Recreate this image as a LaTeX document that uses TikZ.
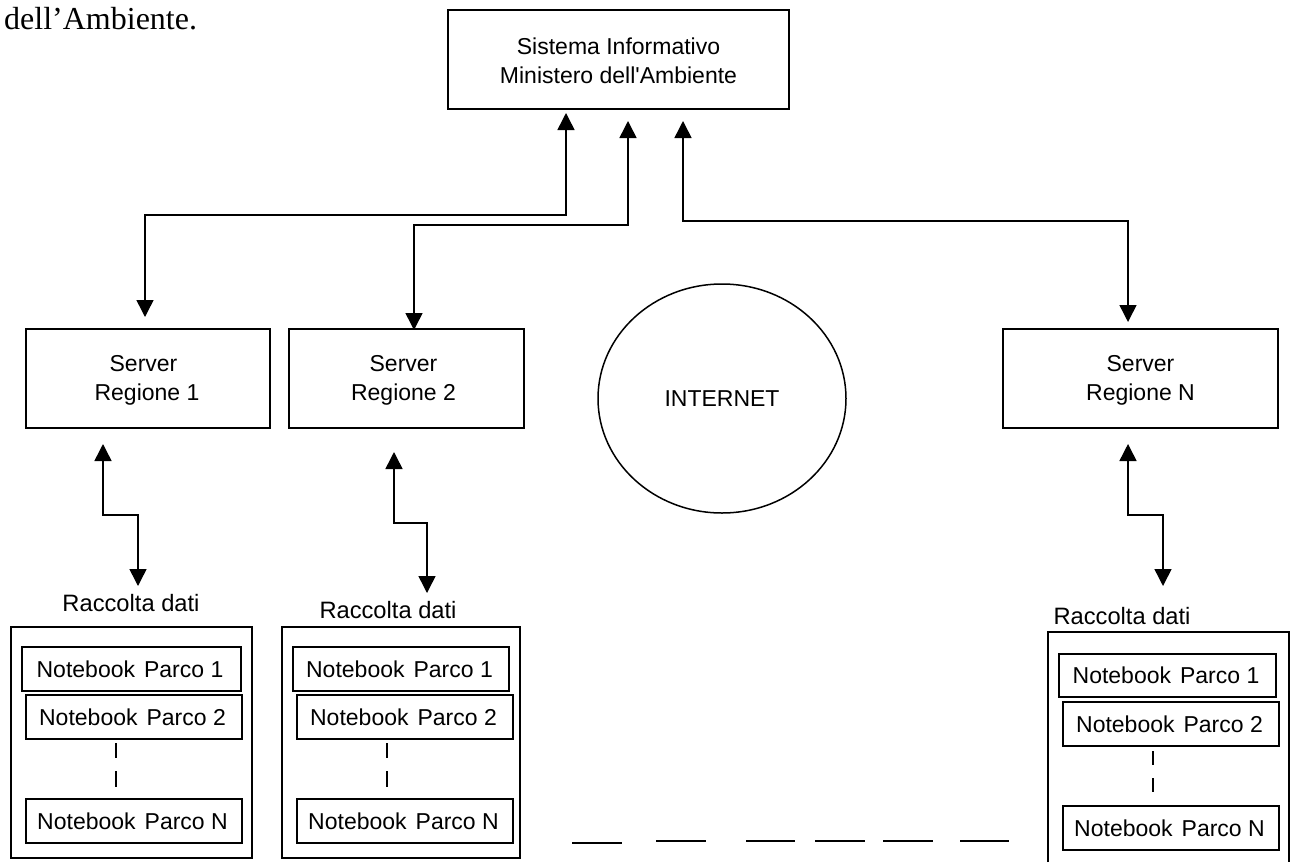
\documentclass[tikz,border=0pt]{standalone}
\usepackage{fontspec}
\setmainfont{Liberation Sans}
\newfontfamily\arialfont{Liberation Sans}
\newfontfamily\timesfont{Liberation Serif}
\usetikzlibrary{arrows.meta,shapes.geometric}
\tikzset{
  boxstyle/.style={draw=black,line width=1.5pt,fill=white,rectangle,inner sep=0pt,align=center,
    font=\arialfont\fontsize{23}{29}\selectfont},
  linkline/.style={draw=black,line width=1.5pt,miter limit=10},
  onehead/.style={linkline,-{Triangle[length=17pt,width=17pt]}},
  twohead/.style={linkline,{Triangle[length=17pt,width=17pt]}-{Triangle[length=17pt,width=17pt]}},
  sparse/.style={draw=black,line width=1.4pt},
  plain/.style={inner sep=0pt,font=\arialfont\fontsize{23.7}{29}\selectfont},
}
% name, x1, y1, x2, y2, text
\newcommand{\pxbox}[6]{\node[boxstyle,minimum width={(#4-#2)*1pt},minimum height={(#5-#3)*1pt}]
  (#1) at ({(#2+#4)/2},{(#3+#5)/2}) {#6};}
\newcommand{\nbtext}[1]{\hspace*{-3pt}Notebook\hspace{9pt}Parco #1}
\begin{document}
\begin{tikzpicture}[x=1pt,y=-1pt]
\useasboundingbox (0,0) rectangle (1292,862);
\fill[white] (0,0) rectangle (1292,862);

\node[anchor=base west,inner sep=0pt,font=\timesfont\fontsize{32}{36}\selectfont] (intro) at (4,29) {dell’Ambiente.};

% main boxes
\pxbox{top}{448}{10}{789}{109}{\rule{0pt}{18.7pt}Sistema Informativo\\Ministero dell'Ambiente}
\pxbox{srvA}{26}{329}{270}{428}{\rule{0pt}{20.7pt}\hspace*{-9pt}Server\\\hspace*{-2pt}Regione 1}
\pxbox{srvB}{289}{329}{524}{428}{\rule{0pt}{20.7pt}\hspace*{-6pt}Server\\\hspace*{-6pt}Regione 2}
\pxbox{srvN}{1003}{329}{1278}{428}{\rule{0pt}{20.7pt}Server\\Regione N}
\node[draw=black,line width=1.5pt,ellipse,inner sep=0pt,minimum width=248pt,minimum height=229pt,
  font=\arialfont\fontsize{23}{29}\selectfont] (net) at (722,398.5) {INTERNET};

% data collection group 1
\pxbox{grpA}{11}{627}{252}{858}{}
\node[plain] (labA) at (131,603) {Raccolta dati};
\pxbox{aOne}{22}{647}{241}{691}{\nbtext{1}}
\pxbox{aTwo}{26}{695}{242}{739}{\nbtext{2}}
\pxbox{aLast}{26}{799}{242}{843}{\nbtext{N}}
\coordinate (ad1) at (116,743); \coordinate (ad2) at (116,758);
\coordinate (ad3) at (116,771); \coordinate (ad4) at (116,787);
\draw[sparse] (ad1) -- (ad2); \draw[sparse] (ad3) -- (ad4);

% data collection group 2
\pxbox{grpB}{282}{627}{520}{858}{}
\node[plain] (labB) at (388,610) {Raccolta dati};
\pxbox{bOne}{293}{647}{509}{691}{\nbtext{1}}
\pxbox{bTwo}{297}{695}{513}{739}{\nbtext{2}}
\pxbox{bLast}{297}{799}{513}{843}{\nbtext{N}}
\coordinate (bd1) at (387,743); \coordinate (bd2) at (387,758);
\coordinate (bd3) at (387,771); \coordinate (bd4) at (387,787);
\draw[sparse] (bd1) -- (bd2); \draw[sparse] (bd3) -- (bd4);

% data collection group N (cut by the page bottom)
\coordinate (gl) at (1048,862); \coordinate (gtl) at (1048,632);
\coordinate (gtr) at (1289,632); \coordinate (gr) at (1289,862);
\draw[linkline] (gl) -- (gtl) -- (gtr) -- (gr);
\node[plain] (labN) at (1122,616) {Raccolta dati};
\pxbox{nOne}{1059}{654}{1276}{697}{\nbtext{1}}
\pxbox{nTwo}{1063}{702}{1279}{746}{\nbtext{2}}
\pxbox{nLast}{1063}{806}{1279}{850}{\nbtext{N}}
\coordinate (nd1) at (1153,751); \coordinate (nd2) at (1153,765);
\coordinate (nd3) at (1153,778); \coordinate (nd4) at (1153,792);
\draw[sparse] (nd1) -- (nd2); \draw[sparse] (nd3) -- (nd4);

% links to the ministry
\coordinate (t1) at (566,113); \coordinate (t1a) at (566,215); \coordinate (t1b) at (145,215); \coordinate (s1) at (145,317);
\coordinate (t2) at (628,121); \coordinate (t2a) at (628,225); \coordinate (t2b) at (414,225);
\coordinate (s2) at (414,330);
\coordinate (t3) at (683,121); \coordinate (t3a) at (683,221); \coordinate (t3b) at (1128,221); \coordinate (s3) at (1128,322);
\draw[twohead] (t1) -- (t1a) -- (t1b) -- (s1);
\draw[twohead] (t2) -- (t2a) -- (t2b) -- (s2);
\draw[twohead] (t3) -- (t3a) -- (t3b) -- (s3);

% links server - data collection
\coordinate (u1) at (103,444); \coordinate (u1a) at (103,515); \coordinate (u1b) at (138,515); \coordinate (v1) at (138,586);
\coordinate (u2) at (394,452); \coordinate (u2a) at (394,523); \coordinate (u2b) at (427,523); \coordinate (v2) at (427,593);
\coordinate (u3) at (1128,444); \coordinate (u3a) at (1128,515); \coordinate (u3b) at (1163,515); \coordinate (v3) at (1163,586);
\draw[twohead] (u1) -- (u1a) -- (u1b) -- (v1);
\draw[twohead] (u2) -- (u2a) -- (u2b) -- (v2);
\draw[twohead] (u3) -- (u3a) -- (u3b) -- (v3);

% dashed line of further regions
\coordinate (e1) at (572,843); \coordinate (e2) at (622,843);
\coordinate (e3) at (656,841); \coordinate (e4) at (706,841);
\coordinate (e5) at (746,841); \coordinate (e6) at (795,841);
\coordinate (e7) at (815,841); \coordinate (e8) at (865,841);
\coordinate (e9) at (883,841); \coordinate (e10) at (933,841);
\coordinate (e11) at (960,841); \coordinate (e12) at (1009,841);
\draw[sparse] (e1) -- (e2); \draw[sparse] (e3) -- (e4); \draw[sparse] (e5) -- (e6);
\draw[sparse] (e7) -- (e8); \draw[sparse] (e9) -- (e10); \draw[sparse] (e11) -- (e12);
\end{tikzpicture}
\end{document}
